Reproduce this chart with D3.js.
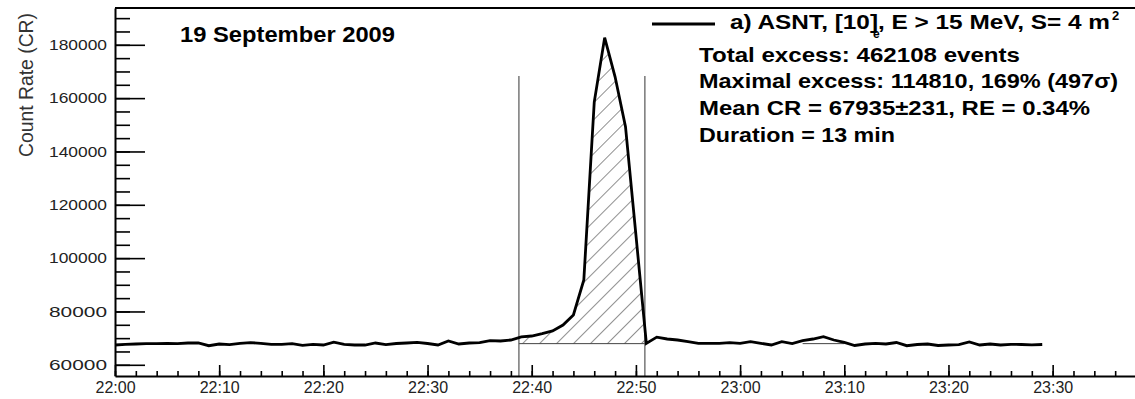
<!DOCTYPE html>
<html>
<head>
<meta charset="utf-8">
<script src="https://cdn.jsdelivr.net/npm/d3@7"></script>
<style>
  body { margin: 0; background: #fff; }
  text { font-family: "Liberation Sans", Arial, Helvetica, sans-serif; }
</style>
</head>
<body>
<div id="my_dataviz"></div>
<script>
// data: 1-minute count rates of ASNT, starting 22:00 UT
var startTime = new Date(Date.UTC(2009, 8, 19, 22, 0));
var countRate = [
  67425, 67690, 67800, 67925, 67925, 68050, 67925, 68175, 68175, 67160,
  67800, 67550, 68050, 68300, 68050, 67680, 67680, 67925, 67300, 67680,
  67425, 68500, 67680, 67425, 67425, 68175, 67550, 67990, 68175, 68440,
  67990, 67425, 68925, 67800, 68175, 68300, 69060, 68925, 69300, 70500,
  70800, 71700, 72700, 74900, 78700, 91800, 158500, 182700, 168000, 149300,
  108700, 68000, 70360, 69675, 69300, 68660, 68060, 68060, 68060, 68300,
  68060, 68660, 68060, 67425, 68660, 67925, 69050, 69675, 70540, 69300,
  68400, 67240, 67800, 68060, 67800, 68360, 67160, 67610, 67800, 67240,
  67425, 67550, 68550, 67425, 67800, 67425, 67690, 67610, 67500, 67610
];
var meanCR = 67935;
var eventWindow = [38.77, 50.86];   // minutes after 22:00
var smallExcess = [66, 70];         // minutes after 22:00
var markerTop = 168300;
var yMajorTicks = [60000, 80000, 100000, 120000, 140000, 160000, 180000];
var yMinorTicks = d3.range(60000, 190001, 5000);
var titleText = "19 September 2009";
var legendText = "a) ASNT, [10], E  > 15 MeV, S= 4 m";
var statsLines = [
  "Total excess: 462108 events",
  "Maximal excess: 114810, 169% (497\u03c3)",
  "Mean CR = 67935\u00b1231, RE = 0.34%",
  "Duration = 13 min"
];

function minToDate(m) { return new Date(startTime.getTime() + m * 60000); }
var data = countRate.map(function(v, i) { return {t: minToDate(i), v: v}; });

var W = 1135, H = 399;
var plot = {left: 115, top: 8, bottom: 376, right: 1136};

var svg = d3.select("#my_dataviz")
  .append("svg")
  .attr("width", W)
  .attr("height", H);

var x = d3.scaleUtc()
  .domain([startTime, minToDate(98)])
  .range([plot.left, plot.right]);

var y = d3.scaleLinear()
  .domain([55800, 193800])
  .range([plot.bottom, plot.top]);

// hatch pattern
var defs = svg.append("defs");
defs.append("pattern")
  .attr("id", "hatch")
  .attr("patternUnits", "userSpaceOnUse")
  .attr("width", 12).attr("height", 12)
  .attr("patternTransform", "rotate(45)")
  .append("line")
    .attr("x1", 0).attr("y1", 0).attr("x2", 0).attr("y2", 12)
    .attr("stroke", "#333").attr("stroke-width", 1.1);

defs.append("clipPath").attr("id", "evclip")
  .append("rect")
  .attr("x", x(minToDate(eventWindow[0])))
  .attr("y", plot.top)
  .attr("width", x(minToDate(eventWindow[1])) - x(minToDate(eventWindow[0])))
  .attr("height", plot.bottom - plot.top);

// excess area
svg.append("path")
  .datum(data)
  .attr("clip-path", "url(#evclip)")
  .attr("fill", "url(#hatch)")
  .attr("d", d3.area()
    .x(function(d) { return x(d.t); })
    .y0(y(meanCR))
    .y1(function(d) { return y(d.v); }));

// baseline segments under excesses
[eventWindow, smallExcess].forEach(function(w) {
  svg.append("line")
    .attr("x1", x(minToDate(w[0]))).attr("x2", x(minToDate(w[1])))
    .attr("y1", y(meanCR)).attr("y2", y(meanCR))
    .attr("stroke", "#444").attr("stroke-width", 1);
});

// event markers
eventWindow.forEach(function(m) {
  svg.append("line")
    .attr("x1", x(minToDate(m))).attr("x2", x(minToDate(m)))
    .attr("y1", y(markerTop)).attr("y2", plot.bottom)
    .attr("stroke", "#555").attr("stroke-width", 1.2);
});

// count rate curve
svg.append("path")
  .datum(data)
  .attr("fill", "none")
  .attr("stroke", "#000")
  .attr("stroke-width", 2.8)
  .attr("stroke-linejoin", "miter")
  .attr("d", d3.line()
    .x(function(d) { return x(d.t); })
    .y(function(d) { return y(d.v); }));

// axes
var yAxis = svg.append("g")
  .attr("transform", "translate(" + plot.left + ",0)")
  .call(d3.axisLeft(y).tickValues(yMajorTicks).tickFormat(d3.format("d"))
    .tickSizeInner(-30).tickSizeOuter(0).tickPadding(8));
yAxis.selectAll("text")
  .attr("font-size", 15).attr("fill", "#222")
  .attr("textLength", 58).attr("lengthAdjust", "spacingAndGlyphs")
  .style("font-family", "'Liberation Sans', Arial, sans-serif");
svg.append("g")
  .attr("transform", "translate(" + plot.left + ",0)")
  .call(d3.axisLeft(y).tickValues(yMinorTicks).tickSizeInner(-15).tickSizeOuter(0).tickFormat(""))
  .select(".domain").remove();

var xAxis = svg.append("g")
  .attr("transform", "translate(0," + plot.bottom + ")")
  .call(d3.axisBottom(x).ticks(d3.utcMinute.every(10)).tickFormat(d3.utcFormat("%H:%M"))
    .tickSizeInner(-11).tickSizeOuter(0).tickPadding(5.6));
xAxis.selectAll("text")
  .attr("font-size", 16).attr("fill", "#222")
  .style("font-family", "'Liberation Sans', Arial, sans-serif");
svg.append("g")
  .attr("transform", "translate(0," + plot.bottom + ")")
  .call(d3.axisBottom(x).ticks(d3.utcMinute.every(2)).tickSizeInner(-5).tickSizeOuter(0).tickFormat(""))
  .select(".domain").remove();

svg.selectAll(".domain").attr("stroke-width", 2);
svg.selectAll(".tick line").attr("stroke-width", 1.6);

// top frame
svg.append("line")
  .attr("x1", plot.left).attr("x2", W).attr("y1", plot.top).attr("y2", plot.top)
  .attr("stroke", "#000").attr("stroke-width", 2);

// y label
svg.append("text")
  .attr("transform", "translate(33,85) rotate(-90)")
  .attr("text-anchor", "middle")
  .attr("font-size", 21)
  .attr("fill", "#333")
  .attr("textLength", 144).attr("lengthAdjust", "spacingAndGlyphs")
  .text("Count Rate (CR)");

// title
svg.append("text")
  .attr("x", 180).attr("y", 41.5)
  .attr("font-size", 22).attr("font-weight", "bold")
  .attr("textLength", 215).attr("lengthAdjust", "spacingAndGlyphs")
  .text(titleText);

// legend
svg.append("line")
  .attr("x1", 652).attr("x2", 715).attr("y1", 24).attr("y2", 24)
  .attr("stroke", "#000").attr("stroke-width", 3);
svg.append("text")
  .attr("x", 730).attr("y", 29)
  .attr("font-size", 21).attr("font-weight", "bold")
  .attr("textLength", 380).attr("lengthAdjust", "spacingAndGlyphs")
  .text(legendText);
svg.append("text")
  .attr("x", 1112).attr("y", 20)
  .attr("font-size", 13).attr("font-weight", "bold")
  .text("2");
svg.append("text")
  .attr("x", 873).attr("y", 38)
  .attr("font-size", 12).attr("font-weight", "bold")
  .text("e");

var statsWidths = [321, 419, 391, 196];
svg.selectAll(".stat")
  .data(statsLines)
  .enter()
  .append("text")
    .attr("class", "stat")
    .attr("x", 699)
    .attr("y", function(d, i) { return 61.5 + i * 26.7; })
    .attr("font-size", 21).attr("font-weight", "bold")
    .attr("textLength", function(d, i) { return statsWidths[i]; })
    .attr("lengthAdjust", "spacingAndGlyphs")
    .text(function(d) { return d; });
</script>
</body>
</html>
